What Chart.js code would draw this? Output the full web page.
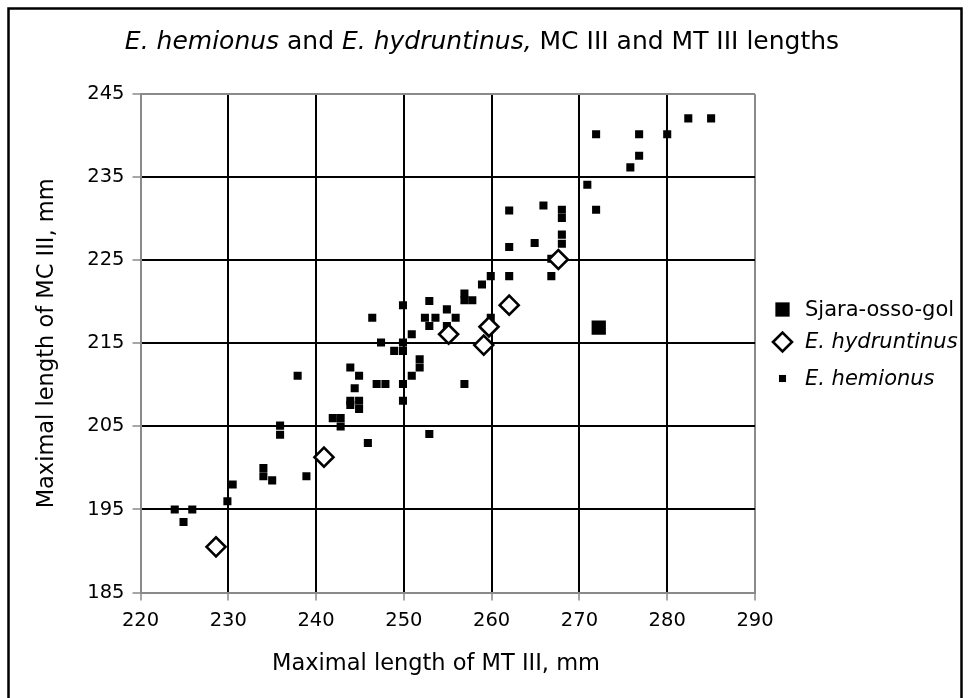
<!DOCTYPE html>
<html>
<head>
<meta charset="utf-8">
<script src="https://cdn.jsdelivr.net/npm/chart.js@4.4.1/dist/chart.umd.min.js"></script>
<style>
  html, body { margin: 0; padding: 0; background: #fff; }
  #wrap { width: 969px; height: 698px; }
</style>
</head>
<body>
<div id="wrap"><canvas id="myChart" width="969" height="698"></canvas></div>
<script>
// tick labels
const xTicks = [220, 230, 240, 250, 260, 270, 280, 290];
const yTicks = [185, 195, 205, 215, 225, 235, 245];

// Sjara-osso-gol
const sjaraX = [272.2];
const sjaraY = [216.9];

// E. hydruntinus
const hydruntinusX = [228.6, 240.9, 255.1, 259.7, 259.1, 262.0, 267.6];
const hydruntinusY = [190.5, 201.3, 216.1, 217.0, 214.8, 219.6, 225.1];

// E. hemionus
const hemionusX = [223.9, 225.9, 224.9, 229.9, 230.5, 234.0, 234.0, 235.0, 238.9, 235.9,
    235.9, 237.9, 241.9, 242.8, 242.8, 243.9, 244.9, 244.4, 243.9, 244.9,
    243.9, 244.9, 245.9, 246.9, 247.9, 249.9, 249.9, 250.9, 251.8, 251.8,
    248.9, 249.9, 249.9, 247.4, 250.9, 246.4, 249.9, 252.9, 252.4, 253.6,
    252.9, 254.9, 255.9, 254.9, 252.9, 256.9, 256.9, 256.9, 257.8, 258.9,
    259.9, 262.0, 259.9, 262.0, 264.9, 262.0, 265.9, 268.0, 268.0, 268.0,
    268.0, 266.8, 266.8, 270.9, 271.9, 271.9, 276.8, 280.0, 282.4, 285.0,
    276.8, 275.8];
const hemionusY = [195.0, 195.0, 193.5, 196.0, 198.0, 200.0, 199.0, 198.5, 199.0, 205.1,
    204.0, 211.1, 206.0, 206.0, 205.0, 212.1, 211.1, 209.6, 208.1, 208.1,
    207.6, 207.1, 203.0, 210.1, 210.1, 210.1, 208.1, 211.1, 213.1, 212.1,
    214.1, 214.1, 215.1, 215.1, 216.1, 218.1, 219.6, 220.1, 218.1, 218.1,
    217.1, 219.1, 218.1, 217.1, 204.1, 210.1, 221.0, 220.2, 220.2, 222.1,
    223.1, 223.1, 218.1, 226.6, 227.1, 231.0, 231.6, 231.1, 230.1, 228.1,
    227.0, 225.2, 223.1, 234.1, 231.1, 240.2, 240.2, 240.2, 242.1, 242.1,
    237.6, 236.2];

const FONT = '"DejaVu Sans", Verdana, sans-serif';
const GRAY = '#8a8a8a';

function toPoints(xs, ys) {
    return xs.map((x, i) => ({ x: x, y: ys[i] }));
}

const datasets = [
    {
        label: 'Sjara-osso-gol',
        data: toPoints(sjaraX, sjaraY),
        pointStyle: 'rect',
        pointRadius: 10.1,
        backgroundColor: '#000',
        borderWidth: 0
    },
    {
        label: 'E. hydruntinus',
        data: toPoints(hydruntinusX, hydruntinusY),
        pointStyle: 'rectRot',
        pointRadius: 9.5,
        backgroundColor: '#fff',
        borderColor: '#000',
        borderWidth: 2.6
    },
    {
        label: 'E. hemionus',
        data: toPoints(hemionusX, hemionusY),
        pointStyle: 'rect',
        pointRadius: 5.7,
        backgroundColor: '#000',
        borderWidth: 0
    }
];

// frame, mixed-style title, x axis title and legend
const decorations = {
    id: 'decorations',
    beforeDraw(chart) {
        const c = chart.ctx;
        c.save();
        c.fillStyle = '#fff';
        c.fillRect(0, 0, chart.width, chart.height);
        c.restore();
    },
    afterDraw(chart) {
        const c = chart.ctx;
        c.save();

        // outer frame
        c.strokeStyle = '#000';
        c.lineWidth = 2.5;
        c.strokeRect(8.5, 8.5, 953, 700);

        // title
        const size = 25;
        const parts = [
            { t: 'E. hemionus', it: true },
            { t: ' and ', it: false },
            { t: 'E. hydruntinus,', it: true },
            { t: ' MC III and MT III lengths', it: false }
        ];
        let total = 0;
        parts.forEach(p => {
            c.font = (p.it ? 'italic ' : '') + size + 'px ' + FONT;
            p.w = c.measureText(p.t).width;
            total += p.w;
        });
        let x = 482 - total / 2;
        c.fillStyle = '#000';
        c.textBaseline = 'middle';
        c.textAlign = 'left';
        parts.forEach(p => {
            c.font = (p.it ? 'italic ' : '') + size + 'px ' + FONT;
            c.fillText(p.t, x, 42);
            x += p.w;
        });

        // x axis title (sits a little left of the plot centre in the original)
        c.font = '22.5px ' + FONT;
        c.textAlign = 'center';
        c.fillText('Maximal length of MT III, mm', 436, 664);
        c.textAlign = 'left';

        // legend
        const rows = [
            { ds: 0, y: 309.5, italic: false },
            { ds: 1, y: 342, italic: true },
            { ds: 2, y: 378.5, italic: true }
        ];
        rows.forEach(r => {
            const ds = chart.data.datasets[r.ds];
            c.fillStyle = ds.backgroundColor;
            c.strokeStyle = ds.borderColor || '#000';
            c.lineWidth = ds.borderWidth;
            Chart.helpers.drawPoint(c, {
                pointStyle: ds.pointStyle,
                radius: r.ds === 2 ? 5 : ds.pointRadius,
                borderWidth: ds.borderWidth,
                rotation: 0
            }, 782.5, r.y);
            c.fillStyle = '#000';
            c.font = (r.italic ? 'italic ' : '') + '21px ' + FONT;
            c.textBaseline = 'middle';
            c.fillText(ds.label, 805, r.y + 1);
        });

        c.restore();
    }
};

const edgeColor = (lo, hi) => (ctx) => {
    const v = ctx.tick ? ctx.tick.value : null;
    return (v === lo || v === hi) ? GRAY : '#000';
};

const ctx = document.getElementById('myChart').getContext('2d');
new Chart(ctx, {
    type: 'scatter',
    data: { datasets: datasets },
    plugins: [decorations],
    options: {
        responsive: false,
        animation: false,
        events: [],
        layout: { padding: { left: 0, top: 94.3, right: 214, bottom: 0 } },
        plugins: {
            legend: { display: false },
            title: { display: false },
            tooltip: { enabled: false }
        },
        scales: {
            x: {
                type: 'linear',
                min: 220,
                max: 290,
                afterBuildTicks: (s) => { s.ticks = xTicks.map(v => ({ value: v })); },
                afterFit: (s) => { s.height = 105.5; },
                grid: {
                    color: edgeColor(220, 290),
                    lineWidth: 2,
                    tickLength: 8,
                    tickColor: GRAY,
                    tickWidth: 1.5
                },
                border: { color: GRAY, width: 2 },
                ticks: {
                    color: '#000',
                    padding: 9,
                    maxRotation: 0,
                    font: { family: FONT, size: 19.5 }
                },
                title: { display: false }
            },
            y: {
                type: 'linear',
                min: 185,
                max: 245,
                afterBuildTicks: (s) => { s.ticks = yTicks.map(v => ({ value: v })); },
                afterFit: (s) => { s.width = 140.5; },
                grid: {
                    color: edgeColor(185, 245),
                    lineWidth: 2,
                    tickLength: 8,
                    tickColor: GRAY,
                    tickWidth: 1.5
                },
                border: { color: GRAY, width: 2 },
                ticks: {
                    color: '#000',
                    padding: 8,
                    font: { family: FONT, size: 19.5 }
                },
                title: {
                    display: true,
                    text: 'Maximal length of MC III, mm',
                    color: '#000',
                    font: { family: FONT, size: 22.5 },
                    padding: { top: 34, bottom: 0 }
                }
            }
        }
    }
});
</script>
</body>
</html>
